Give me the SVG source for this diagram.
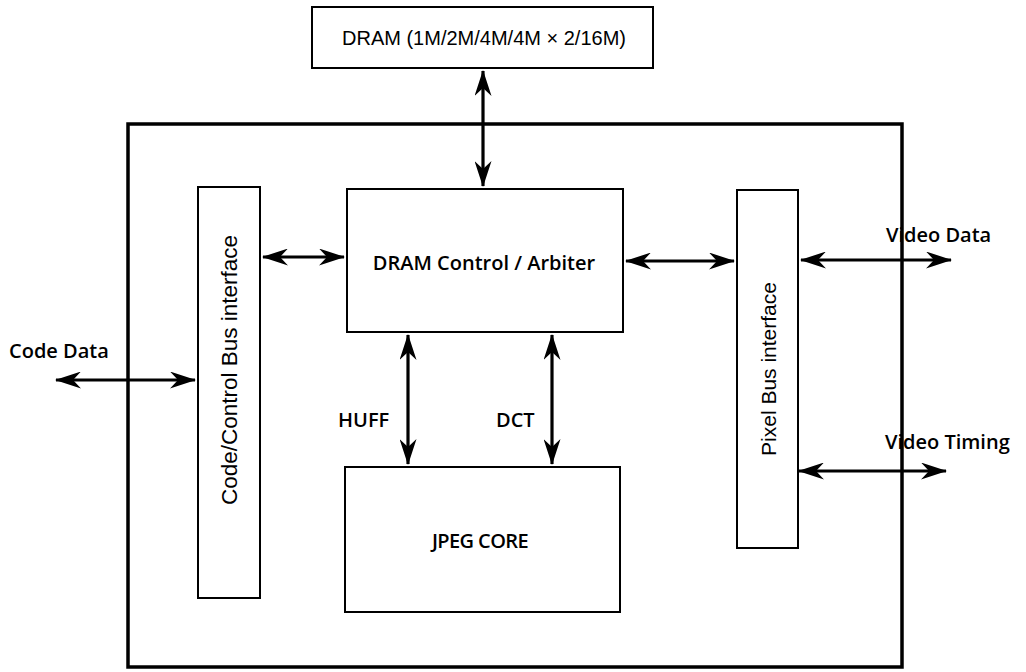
<svg xmlns="http://www.w3.org/2000/svg" width="1026" height="672" viewBox="0 0 1026 672">
<style>
.box{fill:#fff;stroke:#000;stroke-width:2}
.outer{fill:none;stroke:#000;stroke-width:3.5}
.arial{font-family:"Liberation Sans",Arial,sans-serif;font-size:20px;fill:#000}
.rot1{font-size:22.5px}
.rot2{font-size:21px}
.lbl{font-family:"Open Sans","Noto Sans",sans-serif;font-weight:600;font-size:20px;fill:#000}
.conn line{stroke:#000;stroke-width:3.2;marker-start:url(#ah);marker-end:url(#ah)}
</style>
<defs>
<marker id="ah" markerUnits="userSpaceOnUse" viewBox="0 0 26 17" refX="25" refY="8.5" markerWidth="26" markerHeight="17" orient="auto-start-reverse">
<path d="M0,0 L26,8.5 L0,17 L8,8.5 Z" fill="#000"/>
</marker>
</defs>
<rect width="1026" height="672" fill="#fff"/>
<g id="chip"><rect class="outer" x="128" y="124" width="774" height="543"/></g>
<g id="dram"><rect class="box" x="312" y="7" width="341" height="61"/><text class="arial" x="484" y="45" text-anchor="middle">DRAM (1M/2M/4M/4M × 2/16M)</text></g>
<g id="codebus"><rect class="box" x="198" y="187" width="62" height="411"/><text class="arial rot1" transform="translate(237,370) rotate(-90)" text-anchor="middle">Code/Control Bus interface</text></g>
<g id="pixelbus"><rect class="box" x="737" y="190" width="61" height="358"/><text class="arial rot2" transform="translate(776,369) rotate(-90)" text-anchor="middle">Pixel Bus interface</text></g>
<g id="dramctl"><rect class="box" x="347" y="189" width="276" height="143"/><text class="lbl" x="484" y="270" text-anchor="middle">DRAM Control / Arbiter</text></g>
<g id="jpeg"><rect class="box" x="345" y="467" width="275" height="145"/><text class="lbl" x="480" y="548" text-anchor="middle" letter-spacing="-0.6">JPEG CORE</text></g>
<g id="labels">
<text class="lbl" x="9" y="358">Code Data</text>
<text class="lbl" x="886" y="242">Video Data</text>
<text class="lbl" x="885" y="449">Video Timing</text>
<text class="lbl" x="338" y="427">HUFF</text>
<text class="lbl" x="496" y="427">DCT</text>
</g>
<g class="conn" id="connectors">
<line x1="483" y1="71" x2="483" y2="186"/>
<line x1="263" y1="257" x2="344" y2="257"/>
<line x1="626" y1="261" x2="734" y2="261"/>
<line x1="56" y1="380" x2="195" y2="380"/>
<line x1="801" y1="260" x2="951" y2="260"/>
<line x1="799" y1="471" x2="946" y2="471"/>
<line x1="408" y1="335" x2="408" y2="464"/>
<line x1="552" y1="335" x2="552" y2="464"/>
</g>
</svg>
